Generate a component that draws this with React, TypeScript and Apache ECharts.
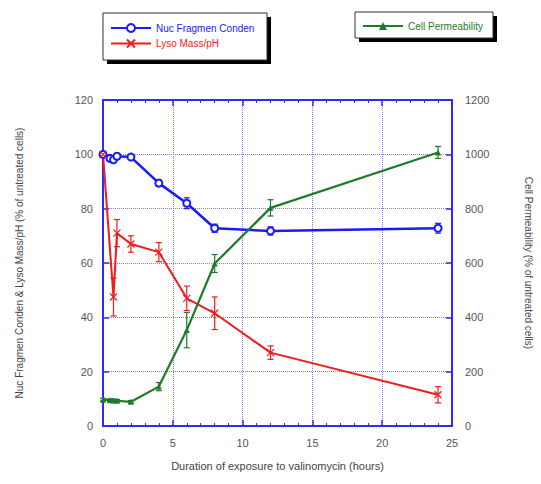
import React, { useEffect, useRef } from "react";
import * as echarts from "echarts";

const xTicks = [0, 5, 10, 15, 20, 25];
const leftTicks = [0, 20, 40, 60, 80, 100, 120];
const rightTicks = [0, 200, 400, 600, 800, 1000, 1200];

const nucHours = [0, 0.5, 0.75, 1, 2, 4, 6, 8, 12, 24];
const nucValues = [100, 98.5, 98, 99.3, 99, 89.4, 82, 72.8, 71.8, 72.8];
const nucErr = [0.5, 0.8, 1, 1, 0.8, 1.2, 2, 1.5, 1.5, 1.8];

const lysoHours = [0, 0.75, 1, 2, 4, 6, 8, 12, 24];
const lysoValues = [100, 47.5, 71, 67, 64, 47, 41.5, 27, 11.5];
const lysoErr = [1, 7, 5, 3, 3.5, 4.5, 6, 2.5, 3];

const permHours = [0, 0.5, 0.75, 1, 2, 4, 6, 8, 12, 24];
const permValues = [97, 95, 94, 93, 89, 145, 353, 598, 803, 1007];
const permErr = [5, 5, 5, 5, 5, 15, 65, 33, 30, 22];

const BLUE = "#1a1aff";
const RED = "#ee1c1c";
const GREEN = "#1f7a2a";
const AXIS = "#2b2bff";
const GRIDC = "#7b7bff";
const LABEL = "#555555";
const FONT = "'Liberation Sans Narrow', 'Liberation Sans', Arial, sans-serif";

const pairs = (xs: number[], ys: number[]) => xs.map((x, i) => [x, ys[i]]);
const errs = (xs: number[], ys: number[], es: number[]) =>
  xs.map((x, i) => [x, ys[i] - es[i], ys[i] + es[i]]);

function errorSeries(data: number[][], color: string, yAxisIndex: number) {
  return {
    type: "custom",
    xAxisIndex: 0,
    yAxisIndex,
    silent: true,
    z: 3,
    encode: { x: 0, y: [1, 2] },
    data,
    renderItem: (params: any, api: any) => {
      const x = api.value(0);
      const lo = api.value(1);
      const hi = api.value(2);
      const pTop = api.coord([x, hi]);
      const pBot = api.coord([x, lo]);
      const w = 3;
      const style = { stroke: color, lineWidth: 1.2 };
      return {
        type: "group",
        children: [
          { type: "line", shape: { x1: pTop[0], y1: pTop[1], x2: pBot[0], y2: pBot[1] }, style },
          { type: "line", shape: { x1: pTop[0] - w, y1: pTop[1], x2: pTop[0] + w, y2: pTop[1] }, style },
          { type: "line", shape: { x1: pBot[0] - w, y1: pBot[1], x2: pBot[0] + w, y2: pBot[1] }, style },
        ],
      };
    },
  };
}

export default function App() {
  const ref = useRef<HTMLDivElement>(null);

  useEffect(() => {
    if (!ref.current) return;
    const chart = echarts.init(ref.current, undefined, { renderer: "svg" });

    const splitLine = { show: true, lineStyle: { color: GRIDC, type: "dotted", width: 1 } };
    const axisLine = { show: true, onZero: false, lineStyle: { color: AXIS, width: 2 } };
    const axisTick = { show: true, inside: true, length: 6, lineStyle: { color: AXIS, width: 1.5 } };
    const minorTick = { show: true, splitNumber: 5, length: 3, lineStyle: { color: AXIS, width: 1 } };
    const axisLabelBase = { color: LABEL, fontSize: 11, fontFamily: FONT };

    const option: any = {
      animation: false,
      textStyle: { fontFamily: FONT },
      grid: { left: 103, right: 73, top: 100, bottom: 58, containLabel: false },
      graphic: [
        { type: "rect", z: 0, shape: { x: 107, y: 17, width: 164, height: 47 }, style: { fill: "#000" } },
        { type: "rect", z: 1, shape: { x: 103, y: 13, width: 164, height: 47 }, style: { fill: "#fff", stroke: "#333", lineWidth: 1 } },
        { type: "rect", z: 0, shape: { x: 359, y: 16, width: 138, height: 26 }, style: { fill: "#000" } },
        { type: "rect", z: 1, shape: { x: 355, y: 12, width: 138, height: 26 }, style: { fill: "#fff", stroke: "#333", lineWidth: 1 } },
      ],
      legend: [
        {
          left: 106,
          top: 17,
          orient: "vertical",
          itemGap: 4,
          itemWidth: 40,
          itemHeight: 10,
          padding: [6, 4, 4, 4],
          textStyle: { fontSize: 10, fontFamily: FONT },
          data: [
            { name: "Nuc Fragmen Conden", textStyle: { color: BLUE } },
            { name: "Lyso Mass/pH", textStyle: { color: RED } },
          ],
        },
        {
          left: 358,
          top: 15,
          orient: "vertical",
          itemWidth: 40,
          itemHeight: 10,
          padding: [6, 4, 4, 4],
          textStyle: { fontSize: 10, fontFamily: FONT },
          data: [{ name: "Cell Permeability", textStyle: { color: GREEN } }],
        },
      ],
      xAxis: [
        {
          type: "value",
          position: "bottom",
          min: 0,
          max: 25,
          interval: 5,
          name: "Duration of exposure to valinomycin (hours)",
          nameLocation: "middle",
          nameGap: 34,
          nameTextStyle: { color: "#444", fontSize: 11, fontFamily: FONT },
          axisLine,
          axisTick,
          minorTick,
          splitLine,
          axisLabel: {
            ...axisLabelBase,
            margin: 11,
            formatter: (v: number) => (xTicks.includes(v) ? String(v) : ""),
          },
        },
        {
          type: "value",
          position: "top",
          min: 0,
          max: 25,
          interval: 5,
          axisLine,
          axisTick,
          minorTick,
          splitLine: { show: false },
          axisLabel: { show: false },
        },
      ],
      yAxis: [
        {
          type: "value",
          position: "left",
          min: 0,
          max: 120,
          interval: 20,
          name: "Nuc Fragmen Conden & Lyso Mass/pH (% of untreated cells)",
          nameLocation: "middle",
          nameGap: 79,
          nameTextStyle: { color: "#444", fontSize: 10, fontFamily: FONT },
          axisLine,
          axisTick,
          splitLine,
          axisLabel: {
            ...axisLabelBase,
            margin: 10,
            formatter: (v: number) => (leftTicks.includes(v) ? String(v) : ""),
          },
        },
        {
          type: "value",
          position: "right",
          min: 0,
          max: 1200,
          interval: 200,
          name: "Cell Permeability (% of untreated cells)",
          nameLocation: "middle",
          nameGap: 71,
          nameRotate: -90,
          nameTextStyle: { color: "#444", fontSize: 10, fontFamily: FONT },
          axisLine,
          axisTick,
          splitLine: { show: false },
          axisLabel: {
            ...axisLabelBase,
            margin: 13,
            formatter: (v: number) => (rightTicks.includes(v) ? String(v) : ""),
          },
        },
      ],
      series: [
        errorSeries(errs(nucHours, nucValues, nucErr), BLUE, 0),
        errorSeries(errs(lysoHours, lysoValues, lysoErr), RED, 0),
        errorSeries(errs(permHours, permValues, permErr), GREEN, 1),
        {
          name: "Nuc Fragmen Conden",
          type: "line",
          xAxisIndex: 0,
          yAxisIndex: 0,
          data: pairs(nucHours, nucValues),
          color: BLUE,
          symbol: "emptyCircle",
          symbolSize: 7,
          lineStyle: { color: BLUE, width: 2.5 },
          itemStyle: { color: BLUE, borderColor: BLUE, borderWidth: 1.5 },
          z: 5,
        },
        {
          name: "Lyso Mass/pH",
          type: "line",
          xAxisIndex: 0,
          yAxisIndex: 0,
          data: pairs(lysoHours, lysoValues),
          color: RED,
          symbol: "path://M0,0L10,10M10,0L0,10",
          symbolSize: 7,
          lineStyle: { color: RED, width: 2 },
          itemStyle: { color: "none", borderColor: RED, borderWidth: 1.2 },
          z: 5,
        },
        {
          name: "Cell Permeability",
          type: "line",
          xAxisIndex: 0,
          yAxisIndex: 1,
          data: pairs(permHours, permValues),
          color: GREEN,
          symbol: "triangle",
          symbolSize: 6,
          lineStyle: { color: GREEN, width: 2.2 },
          itemStyle: { color: GREEN },
          z: 5,
        },
      ],
    };

    chart.setOption(option);
    return () => chart.dispose();
  }, []);

  return (
    <div
      ref={ref}
      style={{ position: "fixed", left: 0, top: 0, width: 541, height: 484, background: "#fff" }}
    />
  );
}
